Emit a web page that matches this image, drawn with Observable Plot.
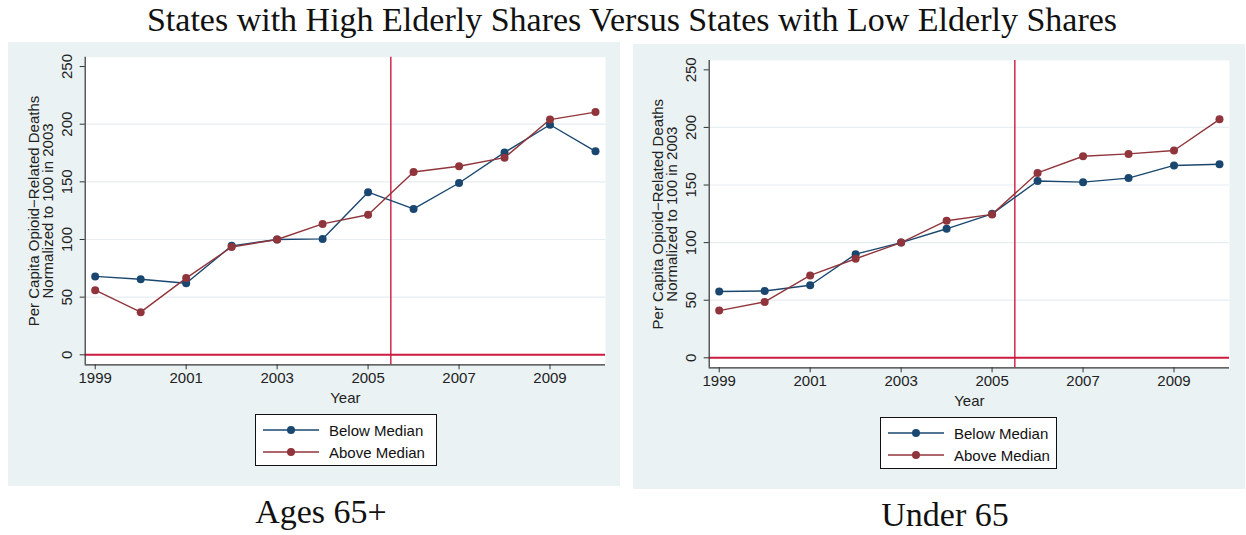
<!DOCTYPE html>
<html>
<head>
<meta charset="utf-8">
<script src="https://cdn.jsdelivr.net/npm/d3@7"></script>
<script src="https://cdn.jsdelivr.net/npm/@observablehq/plot@0.6"></script>
<style>
  html, body { margin: 0; padding: 0; background: #ffffff; }
  #page { position: relative; width: 1246px; height: 535px; overflow: hidden; }
  .serif { position: absolute; font-family: "Liberation Serif", "Times New Roman", serif; color: #111; white-space: nowrap; transform: translateX(-50%); }
  .panel { position: absolute; background: #eaf2f3; }
  .panel > svg { position: absolute; left: 0; top: 0; }
  .legend { position: absolute; background: #ffffff; border: 1px solid #111; box-sizing: border-box;
            font-family: "Liberation Sans", Arial, sans-serif; font-size: 15px; color: #111; }
  .legend .row { position: absolute; left: 0; height: 16px; display: flex; align-items: center; }
  .legend .row svg { display: block; flex: none; }
  .legend .row span { margin-left: 9px; }
</style>
</head>
<body>
<div id="page">
  <div class="serif" id="title" style="left:632px; top:1px; font-size:34px;">States with High Elderly Shares Versus States with Low Elderly Shares</div>
  <div class="panel" id="p1" style="left:8px; top:42px; width:612px; height:444px;"></div>
  <div class="panel" id="p2" style="left:633px; top:44px; width:612px; height:445px;"></div>
  <div class="serif" style="left:321px; top:493px; font-size:34px;">Ages 65+</div>
  <div class="serif" style="left:945px; top:496px; font-size:34px;">Under 65</div>
</div>
<script>
// Index of per capita opioid-related deaths (2003 = 100)
const years = [1999, 2000, 2001, 2002, 2003, 2004, 2005, 2006, 2007, 2008, 2009, 2010];

// Ages 65+
const elderlyBelow = [68, 65.5, 62, 94.5, 100, 100.5, 141, 126.5, 149, 175.5, 199.5, 176.5];
const elderlyAbove = [56, 37, 66.5, 93.5, 100, 113.5, 121.5, 158.5, 163.5, 171, 204, 210.5];

// Under 65
const youngBelow = [57.5, 58, 63, 90, 100, 112, 125, 153.5, 152.5, 156, 167, 168];
const youngAbove = [41, 48.5, 71.5, 86, 100, 119, 124.5, 160.5, 175, 177, 180, 207];

const seriesNames = ["Below Median", "Above Median"];
const seriesColors = ["#1a476f", "#90353b"];
const yTicks = [0, 50, 100, 150, 200, 250];
const gridValues = [50, 100, 150, 200];
const xTicks = [1999, 2001, 2003, 2005, 2007, 2009];
const eventYear = 2005.5;
const yTitle = "Per Capita Opioid\u2212Related Deaths\nNormalized to 100 in 2003";
const xTitle = "Year";

const refColor = "#cc1a40";
const axisColor = "#333333";

function rows(below, above) {
  const out = [];
  years.forEach((yr, i) => {
    out.push({year: yr, value: below[i], series: seriesNames[0]});
    out.push({year: yr, value: above[i], series: seriesNames[1]});
  });
  return out;
}

function panel(container, below, above, frame) {
  const data = rows(below, above);
  const xDomain = [1998.78, 2010.22];
  const yDomain = [-8.68, 258.1];
  const chart = Plot.plot({
    width: frame.width,
    height: frame.height,
    marginLeft: frame.left,
    marginRight: frame.right,
    marginTop: frame.top,
    marginBottom: frame.bottom,
    style: {background: "transparent", fontFamily: "'Liberation Sans', Arial, sans-serif", fontSize: "15px", color: axisColor},
    x: {domain: xDomain},
    y: {domain: yDomain},
    color: {domain: seriesNames, range: seriesColors},
    marks: [
      Plot.frame({fill: "#ffffff", stroke: "none"}),
      Plot.ruleY(gridValues, {stroke: "#e6eef1", strokeWidth: 1.2}),
      Plot.ruleY([0], {stroke: refColor, strokeWidth: 2}),
      Plot.ruleX([eventYear], {stroke: refColor, strokeWidth: 1.4}),
      Plot.line(data, {x: "year", y: "value", z: "series", stroke: "series", strokeWidth: 1.4}),
      Plot.dot(data, {x: "year", y: "value", fill: "series", r: 4}),
      // axis lines
      Plot.ruleX([xDomain[0]], {stroke: axisColor, strokeWidth: 1.2}),
      Plot.ruleY([yDomain[0]], {stroke: axisColor, strokeWidth: 1.2}),
      Plot.axisY({ticks: yTicks, tickSize: 5, tickFormat: () => "", label: null, stroke: axisColor}),
      Plot.text(yTicks, {frameAnchor: "left", y: (d) => d, text: (d) => String(d), rotate: -90,
        dx: -18.5, textAnchor: "middle", lineAnchor: "middle", fill: "#222"}),
      Plot.axisX({ticks: xTicks, tickSize: 5, tickPadding: 3, tickFormat: (d) => String(d), label: null, stroke: axisColor, fill: "#222"}),
      Plot.text([xTitle], {frameAnchor: "bottom", text: (d) => d, dy: 33, lineAnchor: "middle", fill: "#222"}),
      Plot.text([yTitle], {frameAnchor: "left", text: (d) => d, rotate: -90, dx: -44, lineHeight: 0.98,
        textAnchor: "middle", lineAnchor: "middle", fill: "#222"})
    ]
  });
  container.appendChild(chart);
}

function legend(container, left, top, width, height) {
  const box = document.createElement("div");
  box.className = "legend";
  Object.assign(box.style, {left: left + "px", top: top + "px", width: width + "px", height: height + "px"});
  seriesNames.forEach((name, i) => {
    const row = document.createElement("div");
    row.className = "row";
    row.style.top = (i === 0 ? 7 : 29) + "px";
    row.style.left = "6px";
    row.innerHTML = `<svg width="58" height="16"><line x1="1" x2="57" y1="8" y2="8" stroke="${seriesColors[i]}" stroke-width="1.4"/><circle cx="29" cy="8" r="4" fill="${seriesColors[i]}"/></svg><span>${name}</span>`;
    box.appendChild(row);
  });
  container.appendChild(box);
}

const p1 = document.getElementById("p1");
const p2 = document.getElementById("p2");
panel(p1, elderlyBelow, elderlyAbove, {width: 612, height: 380, left: 76.7, right: 15, top: 14.7, bottom: 57.7});
panel(p2, youngBelow, youngAbove, {width: 612, height: 380, left: 75.7, right: 16, top: 16, bottom: 56.7});
legend(p1, 247, 372, 182, 52);
legend(p2, 247, 373, 177, 52);
</script>
</body>
</html>
